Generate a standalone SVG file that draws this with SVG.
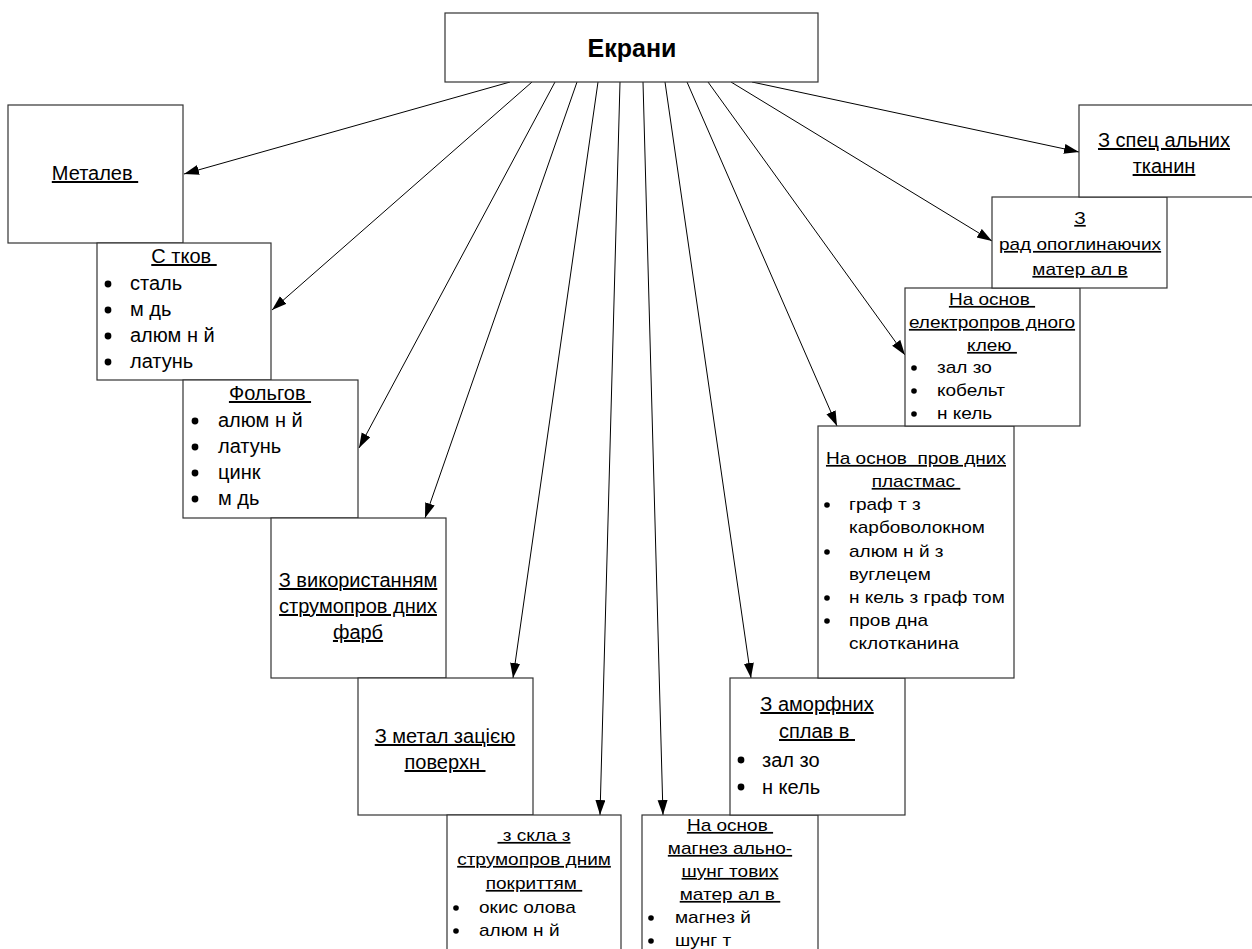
<svg xmlns="http://www.w3.org/2000/svg" width="1252" height="949" viewBox="0 0 1252 949">
<defs>
<marker id="arr" markerUnits="userSpaceOnUse" markerWidth="16" markerHeight="12" refX="15" refY="5" orient="auto">
<path d="M0,0 L15,5 L0,10 z" fill="#000"/>
</marker>
<style>
rect{fill:#fff;stroke:#333;stroke-width:1.2}
text{font-family:"Liberation Sans",Arial,sans-serif;fill:#000}
.L{font-size:20px}
.S{font-size:17px}
.t{text-anchor:middle;text-decoration:underline}
.b{fill:#000}
#connectors line{stroke:#000;stroke-width:1;marker-end:url(#arr)}
</style>
</defs>

<g id="connectors">
<line x1="510" y1="82" x2="184" y2="174"/>
<line x1="532" y1="82" x2="272" y2="310"/>
<line x1="555" y1="82" x2="359" y2="448"/>
<line x1="577" y1="82" x2="425" y2="518"/>
<line x1="598" y1="82" x2="513" y2="678"/>
<line x1="620" y1="82" x2="600" y2="815"/>
<line x1="643" y1="82" x2="663" y2="815"/>
<line x1="665" y1="82" x2="751" y2="678"/>
<line x1="687" y1="82" x2="837" y2="426"/>
<line x1="708" y1="82" x2="905" y2="355"/>
<line x1="731" y1="82" x2="992" y2="241"/>
<line x1="752" y1="82" x2="1079" y2="152"/>
</g>

<g id="ekrany">
<rect x="445" y="13" width="373" height="69"/>
<text x="632" y="57" style="font-size:25px;font-weight:bold;text-anchor:middle">Екрани</text>
</g>

<g id="metalevi">
<rect x="8" y="105" width="175" height="138"/>
<text class="L t" x="95" y="180">Металев&#160;</text>
</g>

<g id="sitkovi">
<rect x="97" y="243" width="174" height="137"/>
<text class="L t" x="184" y="263">С тков&#160;</text>
<circle class="b" cx="108" cy="284" r="3.4"/><text class="L" x="130" y="290">сталь</text>
<circle class="b" cx="108" cy="310" r="3.4"/><text class="L" x="130" y="316">м дь</text>
<circle class="b" cx="108" cy="336" r="3.4"/><text class="L" x="130" y="342">алюм н й</text>
<circle class="b" cx="108" cy="362" r="3.4"/><text class="L" x="130" y="368">латунь</text>
</g>

<g id="folgovi">
<rect x="183" y="380" width="175" height="138"/>
<text class="L t" x="270" y="400">Фольгов&#160;</text>
<circle class="b" cx="195" cy="421" r="3.4"/><text class="L" x="218" y="427">алюм н й</text>
<circle class="b" cx="195" cy="447" r="3.4"/><text class="L" x="218" y="453">латунь</text>
<circle class="b" cx="195" cy="473" r="3.4"/><text class="L" x="218" y="479">цинк</text>
<circle class="b" cx="195" cy="499" r="3.4"/><text class="L" x="218" y="505">м дь</text>
</g>

<g id="farby">
<rect x="271" y="518" width="175" height="160"/>
<text class="L t" x="358" y="587">З використанням</text>
<text class="L t" x="358" y="613">струмопров дних</text>
<text class="L t" x="358" y="639">фарб</text>
</g>

<g id="metalizatsiia">
<rect x="358" y="678" width="175" height="137"/>
<text class="L t" x="445" y="743">З метал зацією</text>
<text class="L t" x="445" y="769">поверхн&#160;</text>
</g>

<g id="sklo">
<rect x="447" y="815" width="174" height="150"/>
<g transform="matrix(1.12 0 0 1 -64.08 0)">
<text class="S t" x="534" y="841">&#160;з скла з</text>
<text class="S t" x="534" y="865">струмопров дним</text>
<text class="S t" x="534" y="889">покриттям&#160;</text>
</g>
<circle class="b" cx="456" cy="908" r="2.8"/><circle class="b" cx="456" cy="931" r="2.8"/>
<g transform="matrix(1.12 0 0 1 -57.48 0)">
<text class="S" x="479" y="913">окис олова</text>
<text class="S" x="479" y="936">алюм н й</text>
</g>
</g>

<g id="magnezialno">
<rect x="642" y="815" width="176" height="150"/>
<g transform="matrix(1.12 0 0 1 -87.6 0)">
<text class="S t" x="730" y="831">На основ&#160;</text>
<text class="S t" x="730" y="854">магнез ально-</text>
<text class="S t" x="730" y="877">шунг тових</text>
<text class="S t" x="730" y="900">матер ал в&#160;</text>
</g>
<circle class="b" cx="651" cy="918" r="2.8"/><circle class="b" cx="651" cy="941" r="2.8"/>
<g transform="matrix(1.12 0 0 1 -81 0)">
<text class="S" x="675" y="923">магнез й</text>
<text class="S" x="675" y="946">шунг т</text>
</g>
</g>

<g id="amorfni">
<rect x="730" y="678" width="175" height="137"/>
<text class="L t" x="817" y="711">З аморфних</text>
<text class="L t" x="817" y="738">сплав в&#160;</text>
<circle class="b" cx="741" cy="760" r="3.4"/><text class="L" x="762" y="767">зал зо</text>
<circle class="b" cx="741" cy="787" r="3.4"/><text class="L" x="762" y="794">н кель</text>
</g>

<g id="plastmasy">
<rect x="818" y="426" width="196" height="252"/>
<g transform="matrix(1.12 0 0 1 -109.92 0)">
<text class="S t" x="916" y="464">На основ&#160; пров дних</text>
<text class="S t" x="916" y="487">пластмас&#160;</text>
</g>
<circle class="b" cx="827" cy="505" r="2.8"/><circle class="b" cx="827" cy="552" r="2.8"/>
<circle class="b" cx="827" cy="598" r="2.8"/><circle class="b" cx="827" cy="621" r="2.8"/>
<g transform="matrix(1.12 0 0 1 -101.88 0)">
<text class="S" x="849" y="510">граф т з</text>
<text class="S" x="849" y="533">карбоволокном</text>
<text class="S" x="849" y="557">алюм н й з</text>
<text class="S" x="849" y="580">вуглецем</text>
<text class="S" x="849" y="603">н кель з граф том</text>
<text class="S" x="849" y="626">пров дна</text>
<text class="S" x="849" y="649">склотканина</text>
</g>
</g>

<g id="klei">
<rect x="905" y="288" width="175" height="138"/>
<g transform="matrix(1.12 0 0 1 -119.04 0)">
<text class="S t" x="992" y="305">На основ&#160;</text>
<text class="S t" x="992" y="328">електропров дного</text>
<text class="S t" x="992" y="351">клею&#160;</text>
</g>
<circle class="b" cx="914" cy="368" r="2.8"/><circle class="b" cx="914" cy="391" r="2.8"/><circle class="b" cx="914" cy="414" r="2.8"/>
<g transform="matrix(1.12 0 0 1 -112.44 0)">
<text class="S" x="937" y="373">зал зо</text>
<text class="S" x="937" y="396">кобельт</text>
<text class="S" x="937" y="419">н кель</text>
</g>
</g>

<g id="radiopoglyn">
<rect x="992" y="197" width="175" height="91"/>
<g transform="matrix(1.12 0 0 1 -129.6 0)">
<text class="S t" x="1080" y="224">З</text>
<text class="S t" x="1080" y="250">рад опоглинаючих</text>
<text class="S t" x="1080" y="275">матер ал в</text>
</g>
</g>

<g id="tkanyny">
<rect x="1079" y="105" width="180" height="92"/>
<text class="L t" x="1164" y="147">З спец альних</text>
<text class="L t" x="1164" y="173">тканин</text>
</g>
</svg>
